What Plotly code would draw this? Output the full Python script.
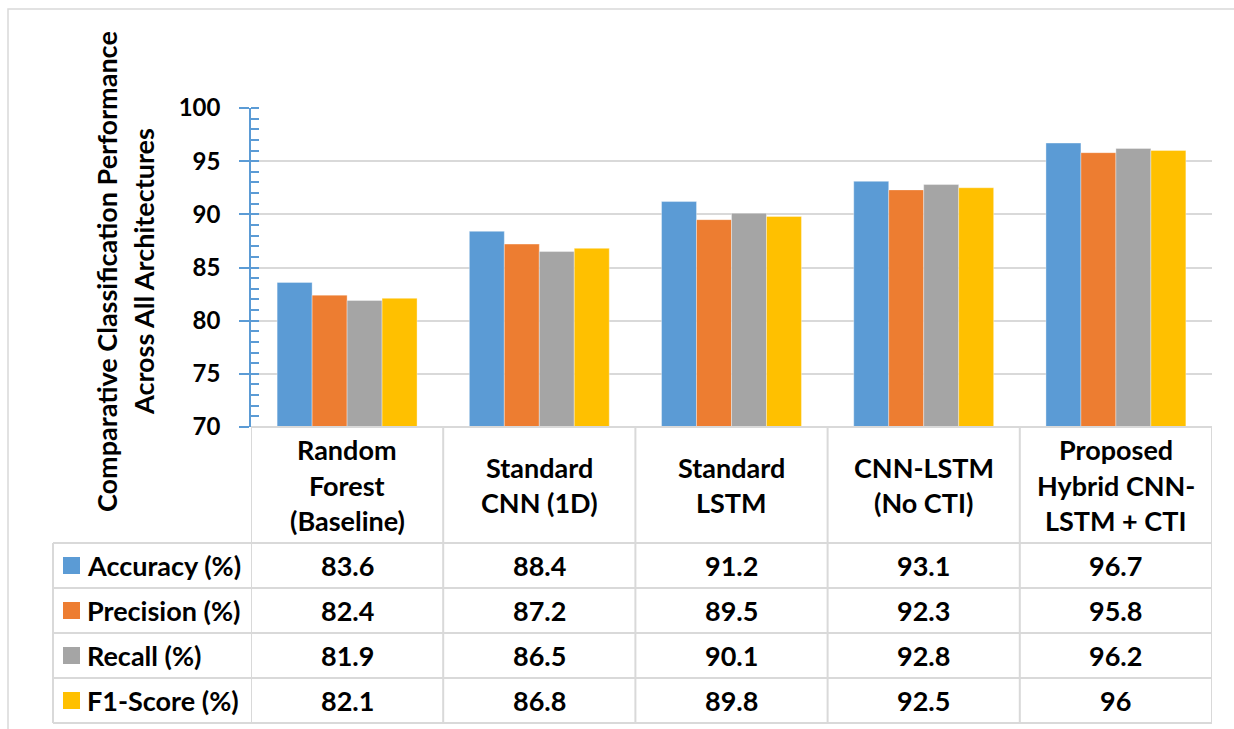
import plotly.graph_objects as go

# Data
architectures = [
    ["Random", "Forest", "(Baseline)"],
    ["Standard", "CNN (1D)"],
    ["Standard", "LSTM"],
    ["CNN-LSTM", "(No CTI)"],
    ["Proposed", "Hybrid CNN-", "LSTM + CTI"],
]
metrics = ["Accuracy (%)", "Precision (%)", "Recall (%)", "F1-Score (%)"]
accuracy = [83.6, 88.4, 91.2, 93.1, 96.7]
precision = [82.4, 87.2, 89.5, 92.3, 95.8]
recall = [81.9, 86.5, 90.1, 92.8, 96.2]
f1_score = [82.1, 86.8, 89.8, 92.5, 96]
y_ticks = [70, 75, 80, 85, 90, 95, 100]

series = [accuracy, precision, recall, f1_score]
colors = ["#5B9BD5", "#ED7D31", "#A5A5A5", "#FFC000"]

W, H = 1234, 729
FONT = "Lato"
GRID = "#D9D9D9"
AXIS_BLUE = "#5B9BD5"


def px(x):
    return x / W


def py(y):
    return 1 - y / H


# Pixel layout of plot area and data table
PLOT_L, PLOT_R, PLOT_T, PLOT_B = 251, 1212, 108, 427
LEG_L = 53
HEADER_B = 543
ROW_H = 45
TABLE_B = HEADER_B + ROW_H * len(metrics)

xs = list(range(len(architectures)))

fig = go.Figure()
for name, vals, col in zip(metrics, series, colors):
    fig.add_trace(go.Bar(
        x=xs, y=vals, name=name,
        marker=dict(color=col, line=dict(color="rgba(255,255,255,0.35)", width=1)),
        showlegend=False,
    ))

shapes = []
annotations = []

# Outer chart border
shapes.append(dict(type="rect", xref="paper", yref="paper",
                   x0=px(8), x1=px(W + 10), y0=py(9), y1=py(H + 10),
                   line=dict(color=GRID, width=1.5), layer="below"))

# Table horizontal lines
shapes.append(dict(type="line", xref="paper", yref="paper",
                   x0=px(PLOT_L), x1=px(PLOT_R), y0=py(PLOT_B), y1=py(PLOT_B),
                   line=dict(color=GRID, width=2)))
for r in range(len(metrics) + 1):
    yy = HEADER_B + r * ROW_H
    shapes.append(dict(type="line", xref="paper", yref="paper",
                       x0=px(LEG_L), x1=px(PLOT_R), y0=py(yy), y1=py(yy),
                       line=dict(color=GRID, width=2)))
# Table vertical lines at category boundaries
for i in range(len(architectures) + 1):
    xb = i - 0.5
    shapes.append(dict(type="line", xref="x", yref="paper",
                       x0=xb, x1=xb, y0=py(PLOT_B), y1=py(TABLE_B),
                       line=dict(color=GRID, width=2)))
shapes.append(dict(type="line", xref="paper", yref="paper",
                   x0=px(LEG_L), x1=px(LEG_L), y0=py(HEADER_B), y1=py(TABLE_B),
                   line=dict(color=GRID, width=2)))

text_font = dict(family=FONT, size=27, color="black", weight="bold")

# Category header cells
header_mid = (PLOT_B + HEADER_B) / 2
line_gap = 35.5
for i, lines in enumerate(architectures):
    n = len(lines)
    for k, ln in enumerate(lines):
        yy = header_mid + (k - (n - 1) / 2) * line_gap
        annotations.append(dict(xref="x", yref="paper", x=i, y=py(yy),
                                text=ln, showarrow=False, font=text_font,
                                xanchor="center", yanchor="middle"))

# Data rows with legend keys
for r, (name, vals, col) in enumerate(zip(metrics, series, colors)):
    yc = HEADER_B + (r + 0.5) * ROW_H
    shapes.append(dict(type="rect", xref="paper", yref="paper",
                       x0=px(63), x1=px(80), y0=py(yc - 8.5), y1=py(yc + 8.5),
                       fillcolor=col, line=dict(width=0)))
    annotations.append(dict(xref="paper", yref="paper", x=px(85), y=py(yc),
                            text=name, showarrow=False, font=text_font,
                            xanchor="left", yanchor="middle"))
    for i, v in enumerate(vals):
        annotations.append(dict(xref="x", yref="paper", x=i, y=py(yc),
                                text=f"{v:g}", showarrow=False, font=text_font,
                                xanchor="center", yanchor="middle"))

# Rotated y-axis title
title_font = dict(family=FONT, size=27, color="black", weight="bold")
for xc, ln in [(106, "Comparative Classification Performance"),
               (143, "Across All Architectures")]:
    annotations.append(dict(xref="paper", yref="paper", x=px(xc), y=py(272),
                            text=ln, textangle=-90, showarrow=False,
                            font=title_font, xanchor="center", yanchor="middle"))

fig.update_layout(
    width=W, height=H,
    margin=dict(l=0, r=0, t=0, b=0, autoexpand=False),
    paper_bgcolor="white", plot_bgcolor="white",
    barmode="group", bargap=0.272, bargroupgap=0,
    xaxis=dict(domain=[px(PLOT_L), px(PLOT_R)], range=[-0.5, len(architectures) - 0.5],
               showticklabels=False, showgrid=False, zeroline=False, showline=False,
               ticks="", automargin=False),
    yaxis=dict(domain=[py(PLOT_B), py(PLOT_T)], range=[70, 100],
               tickvals=y_ticks, ticks="outside", ticklen=10, tickwidth=1.5,
               tickcolor=AXIS_BLUE, showline=True, linecolor=AXIS_BLUE, linewidth=1.5,
               showgrid=True, gridcolor=GRID, gridwidth=2, zeroline=False,
               ticklabelstandoff=14, automargin=False,
               tickfont=dict(family=FONT, size=24, color="black", weight="bold"),
               minor=dict(dtick=1, ticks="inside", ticklen=8, tickwidth=1.5,
                          tickcolor=AXIS_BLUE, showgrid=False)),
    shapes=shapes,
    annotations=annotations,
)

fig.write_html("out.html")
